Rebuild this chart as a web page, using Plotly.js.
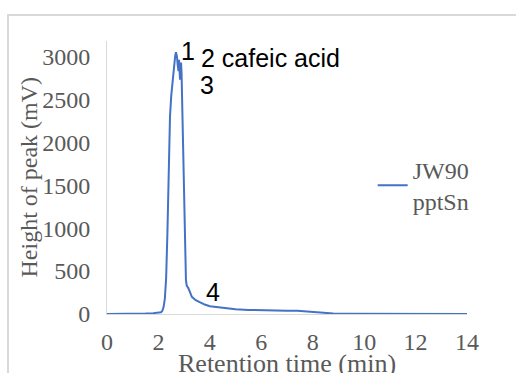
<!DOCTYPE html>
<html>
<head>
<meta charset="utf-8">
<script src="https://cdn.plot.ly/plotly-3.0.1.min.js"></script>
<style>
html,body{margin:0;padding:0;background:#fff;}
#frame{position:absolute;left:7px;top:14px;width:520px;height:380px;border-left:2px solid #d9d9d9;border-top:2px solid #d9d9d9;}
#chart{position:absolute;left:0;top:0;width:516px;height:373px;}
</style>
</head>
<body>
<div id="frame"></div>
<div id="chart"></div>
<script>
// Retention time (min)
const time = [0,0.5,1,1.5,1.8,2.0,2.1,2.15,2.2,2.25,2.3,2.35,2.4,2.45,2.5,2.55,2.6,2.65,2.68,2.72,2.75,2.78,2.8,2.82,2.84,2.86,2.88,2.9,2.93,2.97,3.0,3.03,3.07,3.1,3.16,3.22,3.3,3.45,3.6,3.8,4.0,4.5,5.0,5.5,6.0,6.5,7.0,7.4,7.7,8.0,8.4,8.8,9.5,10,11,12,13,14];
// Height of peak (mV)
const height = [0,0,2,5,10,15,20,35,80,180,420,950,1800,2300,2550,2720,2880,3000,3050,3000,2900,2830,2960,2850,2730,2900,2930,2800,2345,1645,1100,863,397,330,303,260,200,160,135,110,90,70,55,48,42,40,38,38,30,20,10,6,3,2,1,1,0,0];
const seriesName = "JW90<br>pptSn";
const xTicks = [0,2,4,6,8,10,12,14];
const yTicks = [0,500,1000,1500,2000,2500,3000];
const xTitle = "Retention time (min)";
const yTitle = "Height of peak (mV)";
// Peak labels
const peakLabels = ["1","2 cafeic acid","3","4"];
const peakLabelX = [3.15,3.56,3.89,4.12];
const peakLabelY = [3060,2983,2669,256];
const peakLabelAnchor = ["center","left","center","center"];

const serif = "Liberation Serif, serif";
const grey = "#595959";

const trace = {
  x: time, y: height, type: "scatter", mode: "lines", name: seriesName,
  line: {color: "#4472c4", width: 2}
};

const annotations = peakLabels.map((t,i)=>({
  x: peakLabelX[i], y: peakLabelY[i], xref: "x", yref: "y", text: t,
  showarrow: false, xanchor: peakLabelAnchor[i], yanchor: "middle",
  font: {family: "Liberation Sans, Arial, sans-serif", size: 25, color: "#000"}
}));
annotations.push({
  xref: "paper", yref: "paper", x: 0, y: 0.5, xanchor: "center", yanchor: "middle",
  xshift: -79, showarrow: false, textangle: -90, text: yTitle,
  font: {family: serif, size: 24, color: grey}
});
annotations.push({
  xref: "paper", yref: "paper", x: 0.5, y: 0, xanchor: "center", yanchor: "middle",
  yshift: -49, showarrow: false, text: xTitle,
  font: {family: serif, size: 26, color: grey}
});

const layout = {
  width: 516, height: 373,
  margin: {l: 107, r: 49, t: 41, b: 59, pad: 0},
  paper_bgcolor: "rgba(0,0,0,0)", plot_bgcolor: "rgba(0,0,0,0)",
  showlegend: true,
  legend: {x: 0.738, y: 0.61, xanchor: "left", yanchor: "top", bgcolor: "rgba(0,0,0,0)",
    font: {family: serif, size: 24, color: grey}},
  xaxis: {range: [0,14], tickvals: xTicks, ticktext: xTicks.map(String), showgrid: false, zeroline: false,
    showline: true, linecolor: "#d9d9d9", linewidth: 1, ticks: "", ticklabelstandoff: 6,
    tickfont: {family: serif, size: 24, color: grey}},
  yaxis: {range: [0,3180], tickvals: yTicks, ticktext: yTicks.map(String), showgrid: false, zeroline: false,
    showline: true, linecolor: "#d9d9d9", linewidth: 1, ticks: "", ticklabelstandoff: 11,
    tickfont: {family: serif, size: 24, color: grey}},
  annotations: annotations
};

Plotly.newPlot("chart", [trace], layout, {displayModeBar: false, staticPlot: true});
</script>
</body>
</html>
